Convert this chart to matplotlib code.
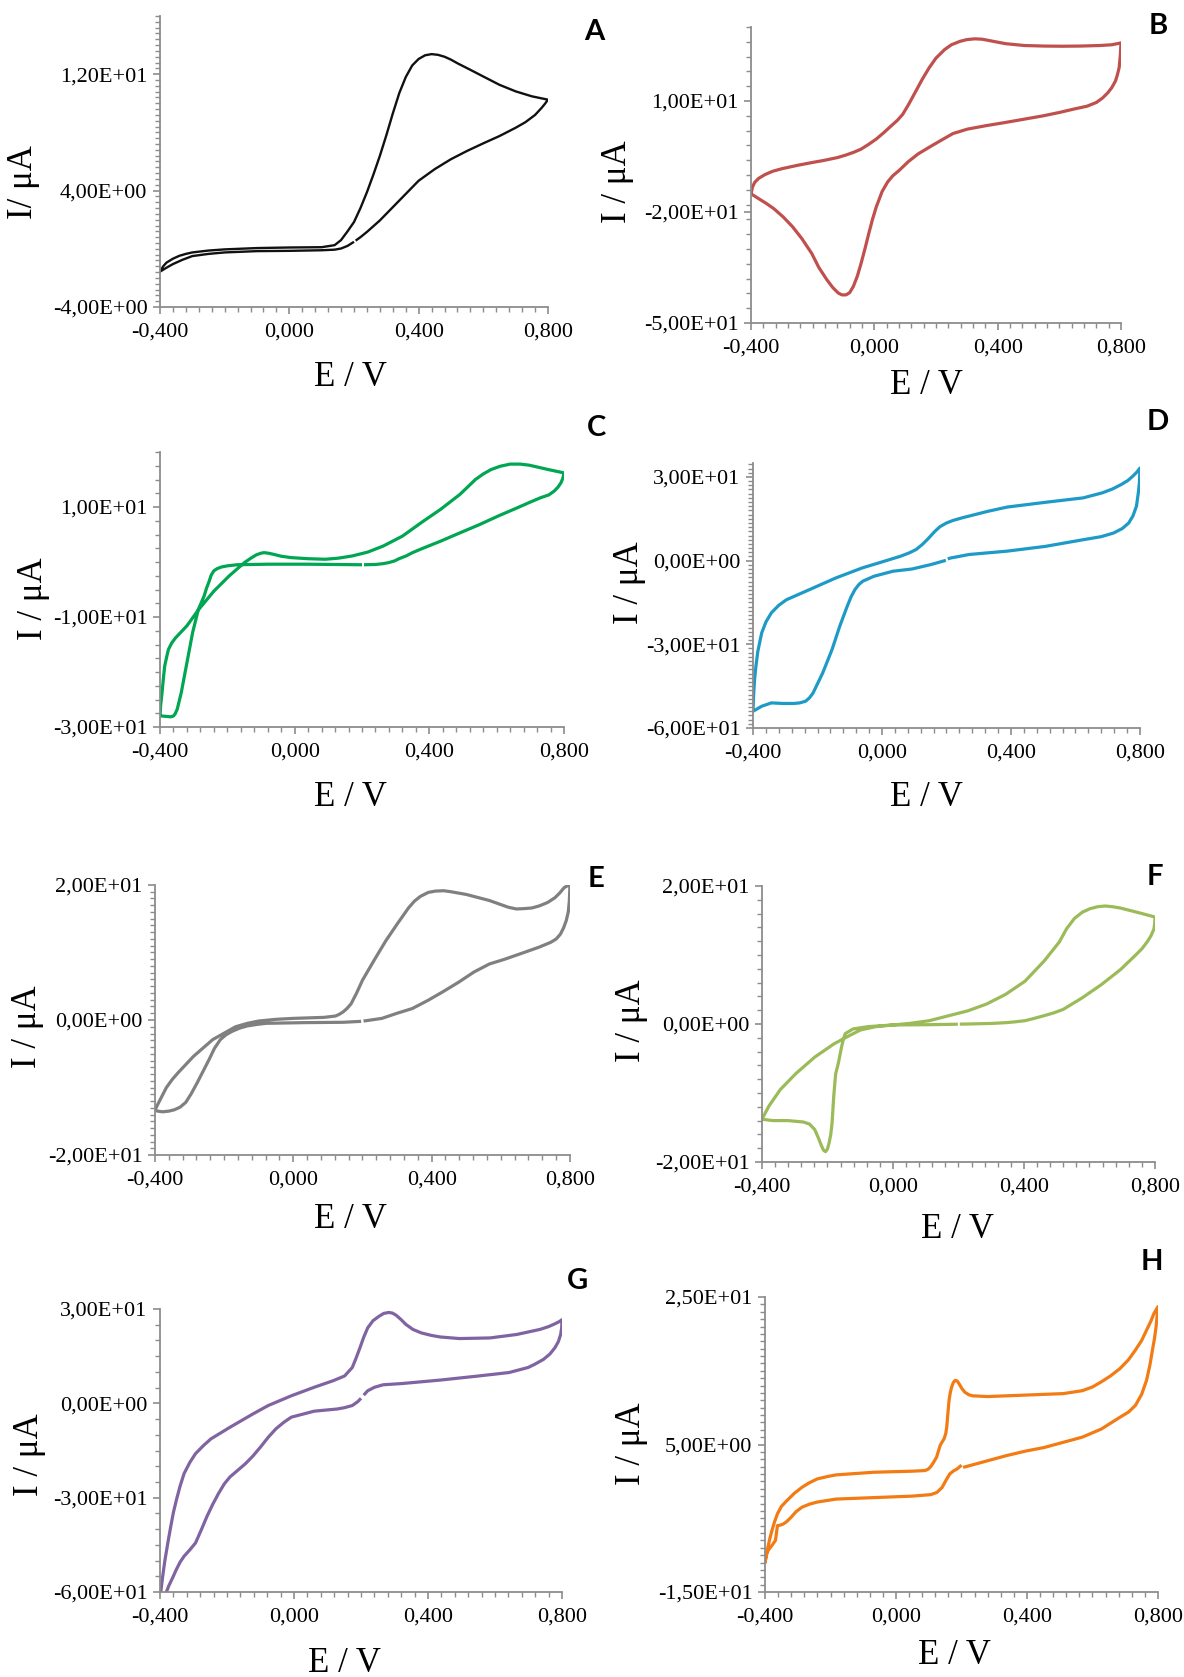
import numpy as np
import matplotlib
matplotlib.use('Agg')
import matplotlib.pyplot as plt
from matplotlib.ticker import FuncFormatter, FixedLocator

# --- datos (E en V, I en uA) ---
# A
a_up_E = [-0.400, -0.390, -0.380, -0.360, -0.340, -0.320, -0.300, -0.250, -0.200, -0.100, 0.000, 0.100, 0.140,
          0.160, 0.180, 0.200, 0.220, 0.240, 0.260, 0.280, 0.300, 0.320, 0.340, 0.360, 0.380, 0.400, 0.420,
          0.440, 0.460, 0.480, 0.500, 0.520, 0.560, 0.600, 0.650, 0.700, 0.750, 0.780, 0.800]
a_up_I = [-1.57, -1.20, -0.95, -0.68, -0.48, -0.35, -0.25, -0.12, -0.04, 0.05, 0.09, 0.11, 0.25,
          0.60, 1.20, 1.84, 2.80, 3.89, 5.10, 6.39, 7.80, 9.30, 10.70, 11.80, 12.60, 13.05, 13.30,
          13.38, 13.33, 13.20, 13.00, 12.75, 12.30, 11.84, 11.27, 10.82, 10.48, 10.34, 10.25]
a_dn_E = [0.800, 0.790, 0.780, 0.760, 0.730, 0.700, 0.650, 0.600, 0.550, 0.500, 0.450, 0.400, 0.360, 0.320,
          0.280, 0.240, 0.220, 0.205, 0.200, 0.180, 0.160, 0.140, 0.100, 0.000, -0.100, -0.200, -0.250, -0.300,
          -0.330, -0.360, -0.380, -0.400]
a_dn_I = [10.25, 9.95, 9.68, 9.20, 8.70, 8.32, 7.75, 7.25, 6.73, 6.16, 5.48, 4.68, 3.77, 2.86,
          1.95, 1.16, 0.80, 0.56, 0.48, 0.20, 0.02, -0.06, -0.10, -0.14, -0.16, -0.25, -0.35, -0.50,
          -0.75, -1.05, -1.30, -1.57]
# B
b_up_E = [-0.400, -0.395, -0.388, -0.375, -0.355, -0.330, -0.300, -0.250, -0.200, -0.166, -0.120, -0.092,
          -0.065, -0.043, -0.020, 0.006, 0.030, 0.055, 0.075, 0.092, 0.110, 0.129, 0.155, 0.178, 0.200,
          0.228, 0.250, 0.277, 0.300, 0.326, 0.350, 0.375, 0.400, 0.425, 0.486, 0.550, 0.609, 0.670,
          0.732, 0.770, 0.800]
b_up_I = [-15.1, -13.2, -12.0, -10.9, -9.9, -9.0, -8.3, -7.4, -6.6, -6.1, -5.3, -4.6,
          -3.8, -3.0, -1.8, -0.3, 1.4, 3.3, 4.8, 6.4, 8.9, 11.8, 15.8, 19.0, 21.6,
          23.9, 25.2, 26.1, 26.6, 26.8, 26.7, 26.3, 25.9, 25.5, 25.0, 24.85, 24.8, 24.85,
          25.0, 25.2, 25.7]
b_dn_E = [0.800, 0.798, 0.794, 0.788, 0.782, 0.770, 0.757, 0.740, 0.720, 0.690, 0.646, 0.600, 0.548, 0.480,
          0.425, 0.360, 0.302, 0.255, 0.215, 0.180, 0.142, 0.110, 0.080, 0.060, 0.043, 0.025, 0.006,
          -0.006, -0.018, -0.030, -0.043, -0.055, -0.068, -0.080, -0.092, -0.105, -0.117, -0.135,
          -0.154, -0.180, -0.203, -0.235, -0.265, -0.296, -0.326, -0.350, -0.375, -0.390, -0.400]
b_dn_I = [25.7, 22.5, 19.0, 17.0, 15.4, 13.6, 12.2, 10.8, 9.6, 8.6, 7.8, 6.9, 6.0, 5.0,
          4.2, 3.3, 2.4, 1.2, -0.7, -2.4, -4.3, -6.4, -8.8, -10.2, -11.9, -14.5, -18.7,
          -22.0, -25.8, -29.8, -33.9, -37.3, -40.1, -41.8, -42.4, -42.4, -41.9, -40.4,
          -38.3, -35.0, -31.2, -27.2, -24.0, -21.3, -19.1, -17.7, -16.4, -15.6, -15.1]
# C
c_up_E = [-0.400, -0.398, -0.394, -0.390, -0.386, -0.380, -0.375, -0.365, -0.354, -0.337, -0.320, -0.286,
          -0.240, -0.194, -0.149, -0.130, -0.114, -0.100, -0.091, -0.078, -0.063, -0.040, -0.011, 0.040,
          0.091, 0.130, 0.171, 0.217, 0.263, 0.320, 0.377, 0.434, 0.491, 0.537, 0.560, 0.583, 0.610,
          0.640, 0.670, 0.697, 0.754, 0.800]
c_up_I = [-28.0, -26.0, -23.8, -21.2, -18.9, -17.2, -15.9, -14.7, -13.8, -12.7, -11.6, -8.7,
          -5.3, -2.5, -0.1, 0.7, 1.3, 1.6, 1.7, 1.6, 1.4, 1.05, 0.8, 0.6,
          0.5, 0.7, 1.1, 1.8, 2.9, 4.7, 7.2, 9.6, 12.3, 15.0, 16.0, 16.8, 17.4,
          17.8, 17.8, 17.6, 16.8, 16.2]
c_dn_E = [0.800, 0.797, 0.791, 0.782, 0.771, 0.755, 0.731, 0.700, 0.663, 0.606, 0.549, 0.491, 0.434, 0.377,
          0.350, 0.331, 0.310, 0.297, 0.280, 0.263, 0.240, 0.206, 0.200, 0.034, -0.080, -0.171, -0.200, -0.217,
          -0.230, -0.240, -0.248, -0.254, -0.262, -0.269, -0.286, -0.303, -0.320, -0.337, -0.349, -0.355,
          -0.360, -0.368, -0.377, -0.394, -0.400]
c_dn_I = [16.2, 15.3, 14.4, 13.6, 12.9, 12.2, 11.7, 10.9, 9.9, 8.4, 6.8, 5.3, 3.8, 2.4,
          1.7, 1.1, 0.6, 0.2, -0.1, -0.3, -0.45, -0.5, -0.5, -0.4, -0.4, -0.5, -0.7, -0.9,
          -1.2, -1.6, -2.4, -3.5, -4.8, -6.2, -8.6, -12.8, -18.3, -23.8, -26.8, -27.6,
          -28.0, -28.15, -28.1, -28.0, -28.0]
# D
d_up_E = [-0.400, -0.398, -0.395, -0.391, -0.385, -0.373, -0.360, -0.343, -0.320, -0.296, -0.225, -0.143,
          -0.061, -0.001, 0.058, 0.085, 0.106, 0.125, 0.140, 0.152, 0.164, 0.180, 0.200, 0.220, 0.247,
          0.329, 0.388, 0.506, 0.624, 0.683, 0.715, 0.742, 0.762, 0.777, 0.790, 0.800]
d_up_I = [-54.0, -48.0, -42.5, -37.9, -32.5, -25.9, -22.0, -18.7, -16.0, -14.0, -10.4, -6.2,
          -2.6, -0.5, 1.6, 2.8, 4.0, 5.8, 7.5, 9.0, 10.5, 12.2, 13.5, 14.4, 15.3,
          17.7, 19.2, 20.9, 22.5, 24.3, 25.7, 27.3, 28.7, 30.2, 31.7, 33.2]
d_dn_E = [0.800, 0.799, 0.798, 0.795, 0.789, 0.778, 0.765, 0.745, 0.718, 0.680, 0.624, 0.506, 0.388, 0.270,
          0.211, 0.204, 0.198, 0.152, 0.093, 0.034, -0.025, -0.060, -0.072, -0.084, -0.096, -0.108, -0.131, -0.155,
          -0.184, -0.214, -0.225, -0.237, -0.255, -0.273, -0.308, -0.343, -0.373, -0.400]
d_dn_I = [33.2, 30.5, 27.8, 24.5, 19.5, 16.0, 13.5, 11.5, 9.9, 8.6, 7.5, 5.1, 3.4, 2.2,
          0.9, 0.6, 0.1, -1.4, -3.0, -3.8, -5.6, -7.4, -8.6, -10.4, -13.0, -16.4, -23.5, -31.9,
          -40.3, -47.5, -49.2, -50.4, -51.0, -51.2, -51.2, -51.0, -52.2, -54.0]
# E
e_up_E = [-0.400, -0.395, -0.389, -0.378, -0.367, -0.350, -0.333, -0.289, -0.233, -0.167, -0.133, -0.100,
          -0.050, 0.000, 0.089, 0.122, 0.133, 0.144, 0.155, 0.167, 0.183, 0.200, 0.233, 0.267, 0.300,
          0.333, 0.350, 0.367, 0.390, 0.411, 0.435, 0.456, 0.500, 0.567, 0.622, 0.645, 0.667, 0.690,
          0.711, 0.735, 0.756, 0.770, 0.783, 0.793, 0.800]
e_up_I = [-13.4, -12.8, -12.2, -11.1, -10.0, -8.8, -7.8, -5.4, -2.9, -1.0, -0.5, -0.15,
          0.1, 0.24, 0.39, 0.59, 0.85, 1.2, 1.7, 2.4, 4.0, 5.9, 8.8, 11.7, 14.2,
          16.6, 17.6, 18.3, 18.9, 19.1, 19.15, 19.0, 18.6, 17.7, 16.7, 16.45, 16.5, 16.6,
          16.9, 17.4, 18.1, 18.8, 19.6, 19.9, 20.0]
e_dn_E = [0.800, 0.799, 0.798, 0.795, 0.789, 0.781, 0.772, 0.760, 0.744, 0.711, 0.667, 0.611, 0.567, 0.522,
          0.478, 0.433, 0.389, 0.344, 0.300, 0.256, 0.211, 0.203, 0.196, 0.144, 0.033, -0.078, -0.105, -0.133, -0.155,
          -0.178, -0.195, -0.211, -0.228, -0.244, -0.261, -0.278, -0.295, -0.311, -0.327, -0.344, -0.360,
          -0.378, -0.392, -0.400]
e_dn_I = [20.0, 18.8, 17.6, 16.0, 14.7, 13.6, 12.7, 12.0, 11.5, 10.8, 10.0, 9.0, 8.3, 7.1,
          5.6, 4.2, 2.9, 1.7, 1.0, 0.24, -0.1, -0.15, -0.2, -0.34, -0.39, -0.49, -0.65, -0.88, -1.2,
          -1.7, -2.2, -2.9, -4.2, -5.9, -7.6, -9.3, -10.9, -12.2, -12.9, -13.3, -13.5,
          -13.6, -13.5, -13.4]
# F
f_up_E = [-0.400, -0.379, -0.344, -0.297, -0.239, -0.181, -0.134, -0.099, -0.052, 0.000, 0.053, 0.111, 0.170,
          0.228, 0.286, 0.344, 0.403, 0.461, 0.508, 0.530, 0.554, 0.578, 0.601, 0.625, 0.648, 0.670, 0.695,
          0.753, 0.800]
f_up_I = [-13.8, -11.9, -9.5, -7.2, -4.8, -2.9, -1.7, -0.86, -0.38, -0.14, 0.1, 0.48, 1.2,
          1.9, 2.9, 4.3, 6.2, 9.1, 11.9, 13.8, 15.3, 16.2, 16.7, 17.0, 17.1, 17.0, 16.8,
          16.1, 15.5]
f_dn_E = [0.800, 0.799, 0.797, 0.788, 0.776, 0.760, 0.741, 0.695, 0.636, 0.578, 0.519, 0.490, 0.461, 0.430,
          0.403, 0.370, 0.344, 0.300, 0.228, 0.204, 0.198, 0.111, 0.000, -0.076, -0.122, -0.146, -0.152, -0.157,
          -0.162, -0.167, -0.175, -0.178, -0.181, -0.186, -0.190, -0.195, -0.200, -0.206, -0.212, -0.218,
          -0.228, -0.239, -0.255, -0.274, -0.321, -0.367, -0.400]
f_dn_I = [15.5, 14.6, 13.8, 12.8, 11.9, 10.9, 10.0, 7.9, 5.7, 3.8, 2.1, 1.6, 1.2, 0.8,
          0.48, 0.3, 0.19, 0.08, 0.0, -0.02, -0.03, -0.1, -0.14, -0.38, -0.72, -1.4, -2.3, -3.3,
          -4.5, -5.7, -7.2, -8.8, -10.5, -14.3, -16.0, -17.2, -18.1, -18.5, -18.3, -17.7,
          -16.5, -15.3, -14.5, -14.2, -14.0, -14.0, -13.8]
# G
g_up_E = [-0.400, -0.392, -0.385, -0.376, -0.368, -0.360, -0.351, -0.340, -0.328, -0.311, -0.294, -0.270,
          -0.248, -0.191, -0.123, -0.077, -0.008, 0.060, 0.117, 0.151, 0.174, 0.185, 0.197, 0.208, 0.220,
          0.236, 0.254, 0.268, 0.283, 0.294, 0.305, 0.320, 0.334, 0.355, 0.380, 0.410, 0.437, 0.494,
          0.585, 0.665, 0.734, 0.760, 0.779, 0.792, 0.800]
g_up_I = [-62.0, -55.0, -49.7, -44.0, -39.2, -34.7, -30.7, -26.3, -22.3, -18.8, -16.0, -13.4,
          -11.3, -7.6, -3.4, -0.7, 2.4, 5.1, 7.2, 8.7, 11.4, 14.3, 17.7, 21.0, 24.0,
          26.3, 27.7, 28.6, 28.9, 28.7, 28.0, 26.6, 25.1, 23.5, 22.4, 21.6, 21.1, 20.6,
          20.8, 21.9, 23.5, 24.4, 25.3, 26.0, 26.6]
g_dn_E = [0.800, 0.799, 0.796, 0.789, 0.779, 0.764, 0.745, 0.720, 0.699, 0.642, 0.551, 0.437, 0.323, 0.266,
          0.240, 0.220, 0.208, 0.200, 0.190, 0.174, 0.150, 0.129, 0.060, -0.008, -0.030, -0.054, -0.077,
          -0.100, -0.123, -0.145, -0.168, -0.191, -0.208, -0.225, -0.243, -0.260, -0.277, -0.294, -0.311,
          -0.328, -0.340, -0.351, -0.362, -0.374, -0.388]
g_dn_I = [26.6, 24.0, 21.9, 19.6, 17.7, 15.7, 14.0, 12.5, 11.4, 9.8, 8.7, 7.4, 6.3, 5.9,
          5.1, 4.0, 2.6, 1.6, 0.5, -0.7, -1.4, -1.8, -2.5, -4.4, -6.0, -8.1, -10.8,
          -13.9, -16.8, -19.2, -21.3, -23.4, -25.6, -28.6, -32.2, -36.0, -40.3, -44.4, -46.6,
          -48.6, -50.5, -52.8, -55.4, -58.1, -62.0]
# H
h_up_E = [-0.400, -0.396, -0.391, -0.385, -0.379, -0.371, -0.362, -0.350, -0.333, -0.310, -0.287, -0.265,
          -0.240, -0.210, -0.183, -0.067, 0.049, 0.089, 0.098, 0.106, 0.115, 0.124, 0.135, 0.147, 0.152,
          0.155, 0.158, 0.162, 0.166, 0.170, 0.175, 0.181, 0.187, 0.193, 0.201, 0.210, 0.222, 0.234,
          0.280, 0.395, 0.511, 0.569, 0.600, 0.627, 0.655, 0.684, 0.710, 0.731, 0.750, 0.765, 0.778,
          0.788, 0.800]
h_up_I = [-11.0, -10.0, -8.9, -7.7, -6.7, -5.5, -4.4, -3.4, -2.6, -1.6, -0.8, -0.2,
          0.34, 0.65, 0.88, 1.24, 1.38, 1.47, 1.65, 2.0, 2.6, 3.3, 4.9, 5.8, 6.5,
          7.4, 9.0, 11.0, 12.1, 12.8, 13.4, 13.7, 13.6, 13.2, 12.6, 12.1, 11.75, 11.6,
          11.5, 11.7, 11.9, 12.3, 12.8, 13.5, 14.3, 15.3, 16.5, 17.8, 19.1, 20.5, 21.7,
          22.8, 23.7]
h_dn_E = [0.800, 0.797, 0.794, 0.789, 0.783, 0.775, 0.765, 0.750, 0.731, 0.710, 0.684, 0.627, 0.569, 0.511,
          0.453, 0.395, 0.338, 0.280, 0.222, 0.205, 0.200, 0.187, 0.175, 0.164, 0.152, 0.141, 0.125, 0.106,
          0.049, -0.067, -0.183, -0.240, -0.265, -0.287, -0.305, -0.321, -0.335, -0.345, -0.355, -0.362,
          -0.365, -0.368, -0.379, -0.391, -0.396, -0.400]
h_dn_I = [23.7, 22.3, 20.9, 19.3, 17.8, 15.7, 13.7, 11.8, 10.3, 9.4, 8.7, 7.1, 6.0, 5.3,
          4.6, 4.1, 3.5, 2.8, 2.1, 1.9, 2.2, 1.7, 1.4, 1.0, 0.1, -0.8, -1.5, -1.8,
          -2.0, -2.2, -2.4, -2.8, -3.1, -3.5, -4.1, -4.9, -5.5, -5.8, -5.95, -6.0,
          -7.0, -8.0, -8.7, -9.4, -10.0, -11.0]

letras = ['A', 'B', 'C', 'D', 'E', 'F', 'G', 'H']
colores = ['#111111', '#C0504D', '#00A651', '#1E9AC6', '#808080', '#9BBB59', '#8064A2', '#F27B14']
ylims = [(-4, 16), (-50, 30), (-30, 20), (-60, 35), (-20, 20), (-20, 20), (-60, 30), (-15, 25)]
yticks = [[-4, 4, 12], [-50, -20, 10], [-30, -10, 10], [-60, -30, 0, 30],
          [-20, 0, 20], [-20, 0, 20], [-60, -30, 0, 30], [-15, 5, 25]]
yminor = [0.4, 4, 2.5, 1.5, 1, 2, 5, 1]
ylabels = ['I/ \u03bcA', 'I / \u03bcA', 'I / \u03bcA', 'I / \u03bcA', 'I / \u03bcA', 'I / \u03bcA',
           'I / \u03bcA', 'I / \u03bcA']
xticks = [-0.4, 0.0, 0.4, 0.8]
# el barrido empieza en 0,2 V en la rama de vuelta (pequeño hueco); B no lo muestra
con_hueco = [True, False, True, True, True, True, True, True]

curvas = [(a_up_E, a_up_I, a_dn_E, a_dn_I), (b_up_E, b_up_I, b_dn_E, b_dn_I),
          (c_up_E, c_up_I, c_dn_E, c_dn_I), (d_up_E, d_up_I, d_dn_E, d_dn_I),
          (e_up_E, e_up_I, e_dn_E, e_dn_I), (f_up_E, f_up_I, f_dn_E, f_dn_I),
          (g_up_E, g_up_I, g_dn_E, g_dn_I), (h_up_E, h_up_I, h_dn_E, h_dn_I)]

# posicion de cada panel en pixeles: izq, der, arriba, abajo
cajas = [(160, 548, 16, 307), (751, 1121, 27, 323), (160, 564, 452, 727), (753, 1140, 463, 728),
         (155, 570, 885, 1155), (762, 1155, 886, 1162), (160, 562, 1309, 1592), (765, 1158, 1297, 1592)]
# posiciones de textos (x, y) en pixeles
pos_ylab = [(24, 182), (618, 182), (34, 599), (629, 583), (27, 1027), (631, 1021), (29, 1455), (631, 1444)]
pos_xlab = [(350, 377), (926, 385), (350, 797), (926, 797), (350, 1219), (957, 1230), (344, 1663), (954, 1656)]
pos_letra = [(594, 32), (1158, 26), (596, 428), (1158, 422), (596, 879), (1155, 877), (578, 1281), (1152, 1262)]

plt.rcParams['font.family'] = ['Liberation Serif', 'DejaVu Serif']
W, H = 1184, 1677
fig = plt.figure(figsize=(W / 100, H / 100), dpi=100)
gris = '#8C8C8C'

fmt_x = FuncFormatter(lambda v, p: ('%.3f' % v).replace('.', ','))
fmt_y = FuncFormatter(lambda v, p: ('%.2E' % v).replace('.', ','))

for i in range(8):
    l, r, t, b = cajas[i]
    ax = fig.add_axes([l / W, 1 - b / H, (r - l) / W, (b - t) / H])
    upE, upI, dnE, dnI = curvas[i]
    if con_hueco[i]:
        # se parte la rama de vuelta en 0,2 V: empieza ahi y termina justo antes
        k = [j for j in range(len(dnE)) if dnE[j] <= 0.2][0]
        E = np.concatenate([dnE[k:], upE, dnE[:k]])
        I = np.concatenate([dnI[k:], upI, dnI[:k]])
    else:
        E = np.concatenate([upE, dnE])
        I = np.concatenate([upI, dnI])
    lw = 1.7 if i == 0 else 2.3
    ax.plot(E, I, color=colores[i], lw=lw, solid_joinstyle='round', solid_capstyle='butt')
    ax.set_xlim(-0.4, 0.8)
    ax.set_ylim(*ylims[i])
    ax.set_xticks(xticks)
    ax.set_yticks(yticks[i])
    ax.xaxis.set_minor_locator(FixedLocator(np.arange(-0.4, 0.8001, 0.04)))
    ax.yaxis.set_minor_locator(FixedLocator(np.arange(ylims[i][0], ylims[i][1] + 1e-6, yminor[i])))
    ax.xaxis.set_major_formatter(fmt_x)
    ax.yaxis.set_major_formatter(fmt_y)
    for s in ['top', 'right']:
        ax.spines[s].set_visible(False)
    for s in ['left', 'bottom']:
        ax.spines[s].set_color(gris)
        ax.spines[s].set_linewidth(1.3)
    ax.tick_params(which='major', direction='out', length=5, width=1.2, color=gris, labelsize=16, pad=4)
    ax.tick_params(which='minor', direction='out', length=3.5, width=1.0, color=gris)
    ax.tick_params(axis='x', which='major', pad=6)
    ax.patch.set_alpha(0)
    fig.text(pos_ylab[i][0] / W, 1 - pos_ylab[i][1] / H, ylabels[i], rotation=90,
             ha='center', va='center', fontsize=25)
    fig.text(pos_xlab[i][0] / W, 1 - pos_xlab[i][1] / H, 'E / V', ha='center', va='center', fontsize=25)
    fig.text(pos_letra[i][0] / W, 1 - pos_letra[i][1] / H, letras[i], ha='center', va='center',
             fontsize=21, fontweight='bold', family=['Lato', 'DejaVu Sans'])

fig.savefig('out.png', dpi=100)
